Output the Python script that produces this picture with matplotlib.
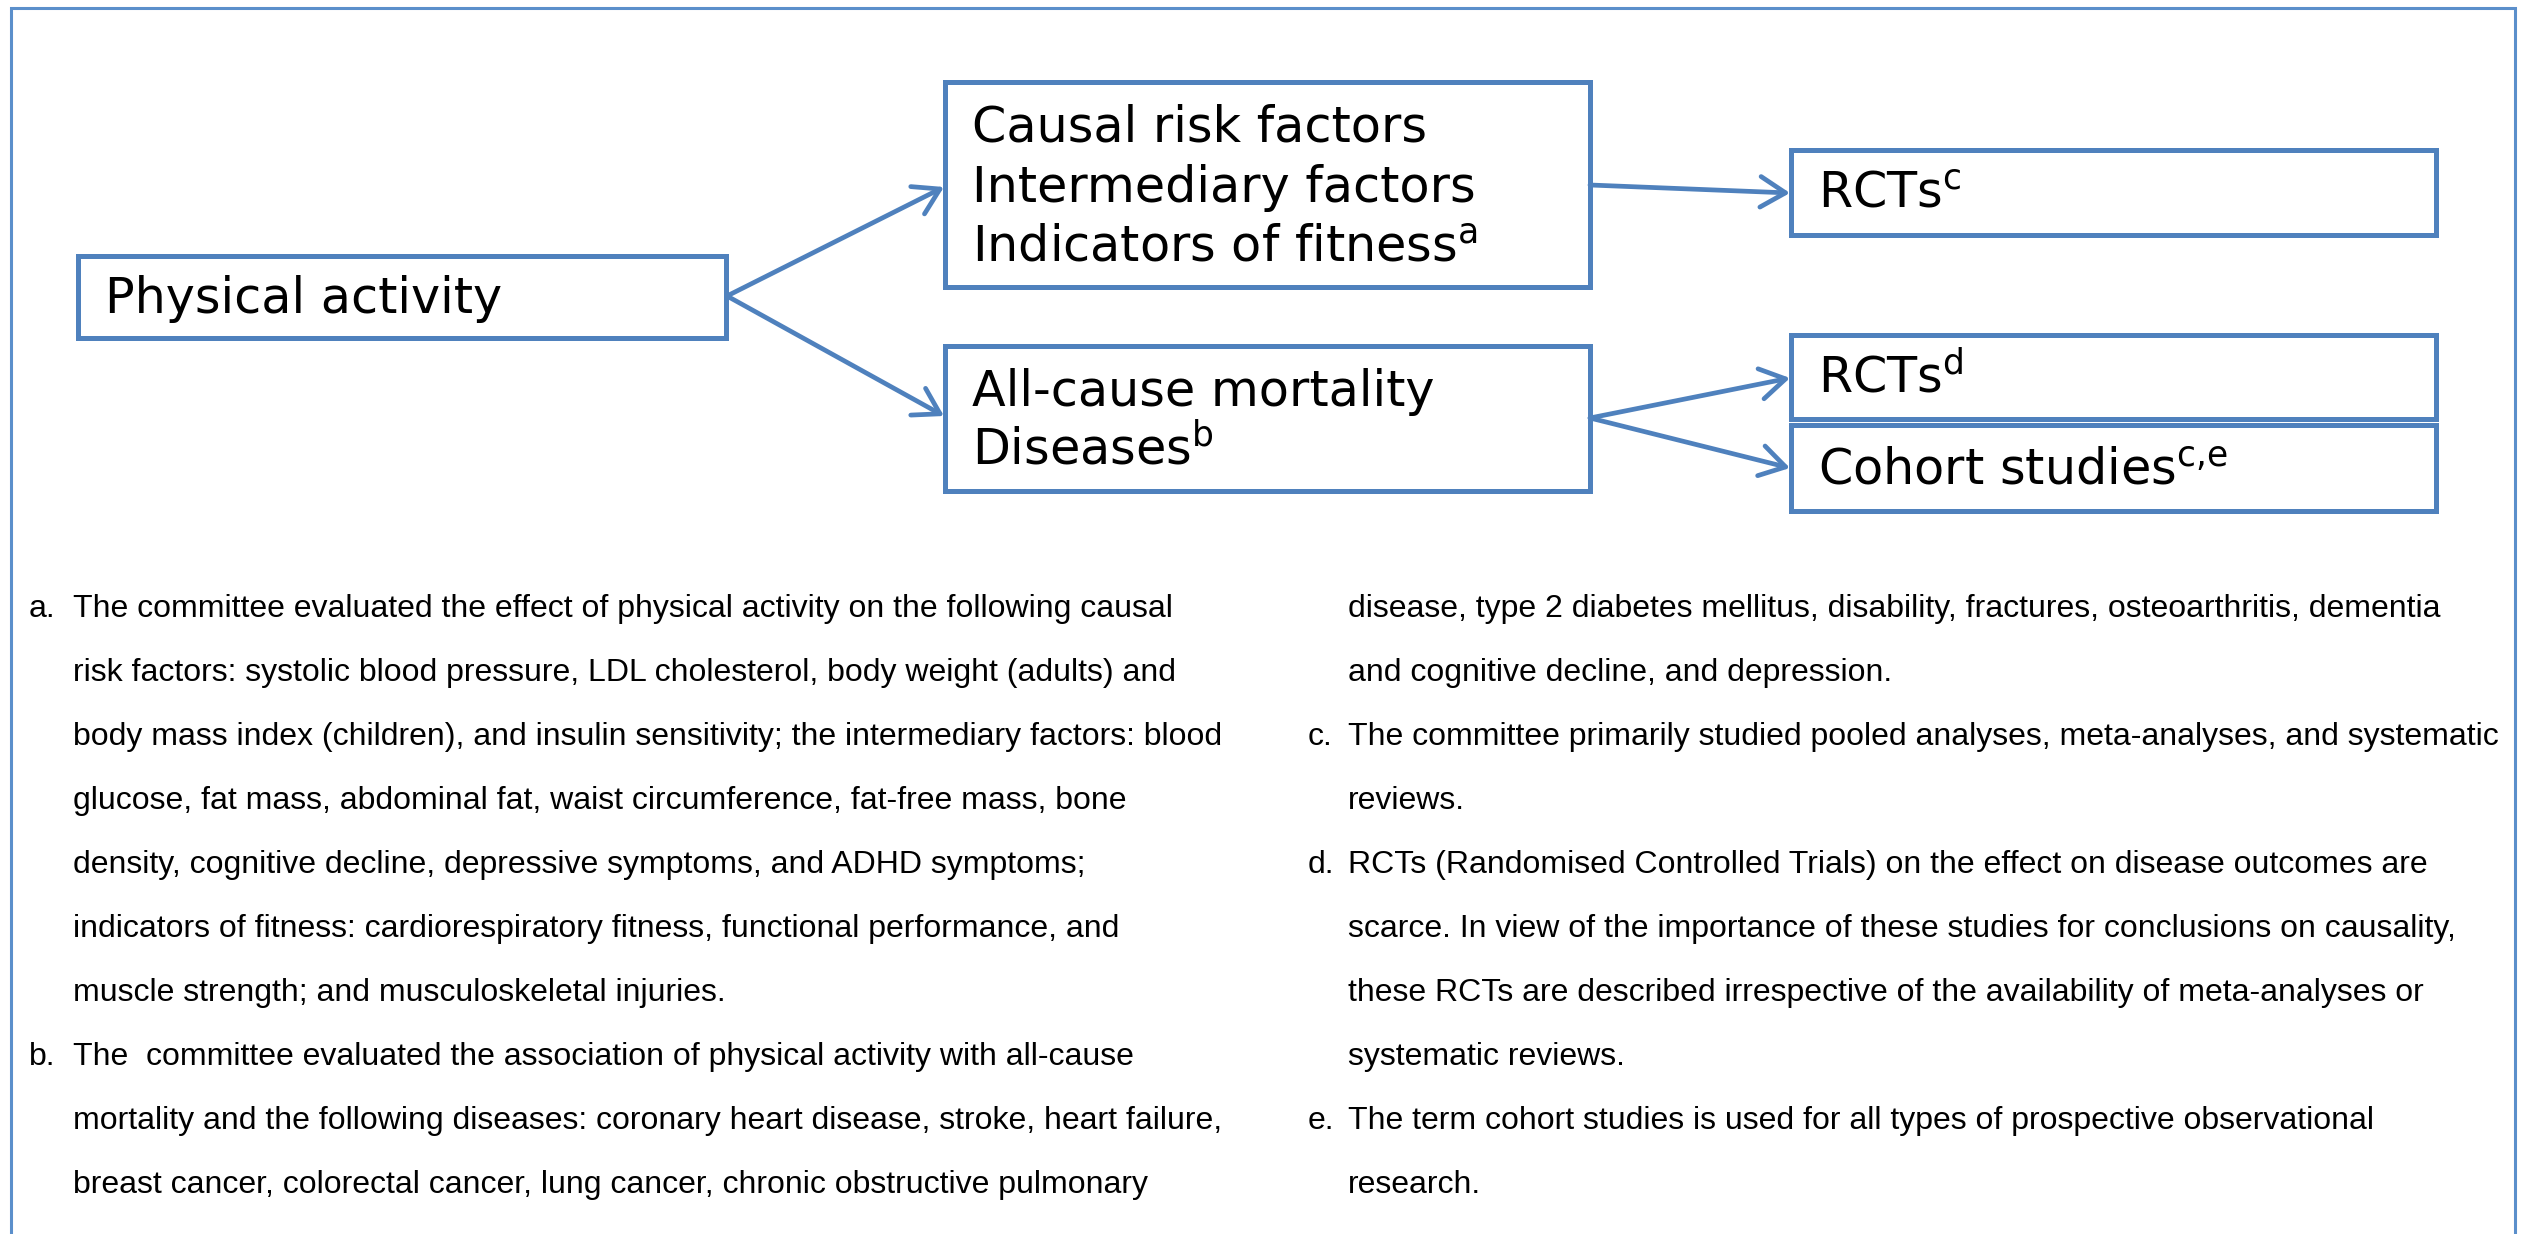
import matplotlib
matplotlib.use("Agg")
import matplotlib.pyplot as plt
from matplotlib.patches import Rectangle

plt.rcParams['font.family'] = ['Liberation Sans', 'DejaVu Sans']
plt.rcParams['mathtext.fontset'] = 'dejavusans'

# boxes: (left, top, right, bottom) in pixels
box_names = ['activity', 'risk', 'mortality', 'rct_c', 'rct_d', 'cohort']
box_extents = [(78, 256, 726, 338), (945, 82, 1590, 287), (945, 346, 1590, 491),
               (1791, 150, 2436, 235), (1791, 335, 2436, 419), (1791, 425, 2436, 511)]
box_lines = [
    [r'Physical activity'],
    [r'Causal risk factors', r'Intermediary factors', r'Indicators of fitness$^{\mathrm{a}}$'],
    [r'All-cause mortality', r'Diseases$^{\mathrm{b}}$'],
    [r'RCTs$^{\mathrm{c}}$'],
    [r'RCTs$^{\mathrm{d}}$'],
    [r'Cohort studies$^{\mathrm{c{,}e}}$'],
]
box_baselines = [[313], [142, 202, 262], [406, 465], [208], [393], [485]]

# arrows: (x0, y0, x1, y1)
arrows = [(727, 296, 944, 187), (727, 296, 944, 416), (1590, 185, 1790, 193),
          (1590, 418, 1790, 378), (1590, 418, 1790, 468)]

notes_left = [
    ('a.', 'The committee evaluated the effect of physical activity on the following causal'),
    ('', 'risk factors: systolic blood pressure, LDL cholesterol, body weight (adults) and'),
    ('', 'body mass index (children), and insulin sensitivity; the intermediary factors: blood'),
    ('', 'glucose, fat mass, abdominal fat, waist circumference, fat-free mass, bone'),
    ('', 'density, cognitive decline, depressive symptoms, and ADHD symptoms;'),
    ('', 'indicators of fitness: cardiorespiratory fitness, functional performance, and'),
    ('', 'muscle strength; and musculoskeletal injuries.'),
    ('b.', 'The  committee evaluated the association of physical activity with all-cause'),
    ('', 'mortality and the following diseases: coronary heart disease, stroke, heart failure,'),
    ('', 'breast cancer, colorectal cancer, lung cancer, chronic obstructive pulmonary'),
]
notes_right = [
    ('', 'disease, type 2 diabetes mellitus, disability, fractures, osteoarthritis, dementia'),
    ('', 'and cognitive decline, and depression.'),
    ('c.', 'The committee primarily studied pooled analyses, meta-analyses, and systematic'),
    ('', 'reviews.'),
    ('d.', 'RCTs (Randomised Controlled Trials) on the effect on disease outcomes are'),
    ('', 'scarce. In view of the importance of these studies for conclusions on causality,'),
    ('', 'these RCTs are described irrespective of the availability of meta-analyses or'),
    ('', 'systematic reviews.'),
    ('e.', 'The term cohort studies is used for all types of prospective observational'),
    ('', 'research.'),
]

blue = '#4F81BD'
W, H = 2527, 1234
fig = plt.figure(figsize=(W / 100, H / 100), dpi=100)
ax = fig.add_axes([0, 0, 1, 1])
ax.set_xlim(0, W)
ax.set_ylim(H, 0)
ax.axis('off')

# outer frame (open at the bottom)
ax.plot([11, 11, 2515, 2515], [H + 5, 8, 8, H + 5], color='#5B8FCB', lw=2.2,
        solid_joinstyle='miter')

for ext, lines, bases in zip(box_extents, box_lines, box_baselines):
    x0, y0, x1, y1 = ext
    ax.add_patch(Rectangle((x0, y0), x1 - x0, y1 - y0, fill=False,
                           edgecolor=blue, lw=3.6, joinstyle='miter'))
    for s, b in zip(lines, bases):
        ax.text(x0 + 27, b, s, fontsize=35.5, family='DejaVu Sans',
                va='baseline', ha='left', color='black')

for x0, y0, x1, y1 in arrows:
    ax.annotate('', xy=(x1, y1), xytext=(x0, y0),
                arrowprops=dict(arrowstyle='->,head_length=0.9,head_width=0.55',
                                color=blue, lw=3.4, shrinkA=0, shrinkB=0,
                                mutation_scale=20, capstyle='round'))

for col, (lx, tx) in zip([notes_left, notes_right], [(29, 73), (1308, 1348)]):
    for k, (lab, txt) in enumerate(col):
        y = 617 + 64 * k
        if lab:
            ax.text(lx, y, lab, fontsize=23, va='baseline', ha='left')
        ax.text(tx, y, txt, fontsize=23, va='baseline', ha='left')

fig.savefig('out.png', dpi=100)
